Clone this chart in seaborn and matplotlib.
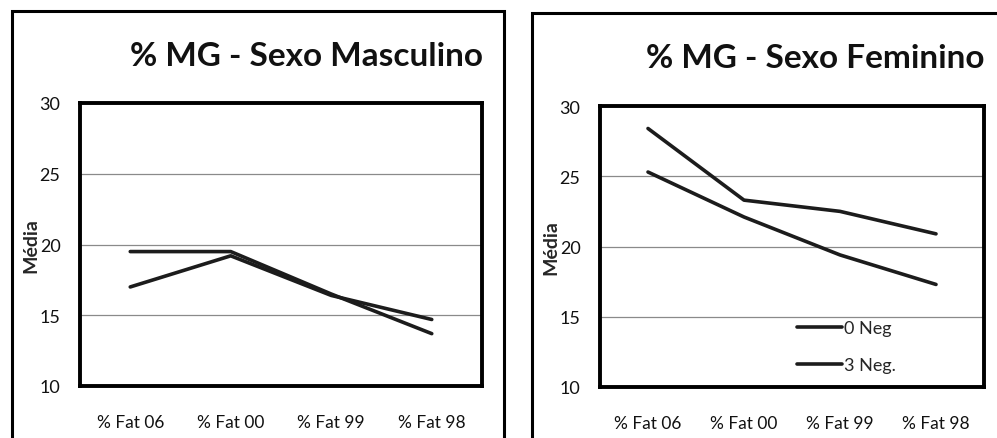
import pandas as pd
import seaborn as sns
import matplotlib.pyplot as plt
from matplotlib.patches import Rectangle

# data
periods = ["% Fat 06", "% Fat 00", "% Fat 99", "% Fat 98"]
series_names = ["0 Neg", "3 Neg."]
masc_0neg = [19.5, 19.5, 16.5, 13.7]
masc_3neg = [17.0, 19.2, 16.4, 14.7]
fem_0neg = [28.4, 23.3, 22.5, 20.9]
fem_3neg = [25.3, 22.1, 19.4, 17.3]
titles = ["% MG - Sexo Masculino", "% MG - Sexo Feminino"]


def long_df(a, b):
    return pd.DataFrame({
        "periodo": periods * 2,
        "media": a + b,
        "grupo": [series_names[0]] * 4 + [series_names[1]] * 4,
    })


sns.set_theme(style="white")
plt.rcParams["font.family"] = ["Lato", "DejaVu Sans"]

fig = plt.figure(figsize=(9.97, 4.39), dpi=100)
W, H = 997, 439

# outer boxes around each chart (figure coords)
for (x0, y0, x1, y1) in [(12, 12, 504, 445), (532, 14, 1003, 445)]:
    fig.patches.append(Rectangle((x0 / W, 1 - y1 / H), (x1 - x0) / W, (y1 - y0) / H,
                                 transform=fig.transFigure, fill=False,
                                 edgecolor="black", linewidth=2.2, clip_on=False))

axes_pos = [(80, 104, 482, 387), (600, 107, 984, 388)]
title_pos = [(306, 57), (815, 58)]
data = [long_df(masc_0neg, masc_3neg), long_df(fem_0neg, fem_3neg)]

for i in range(2):
    x0, y0, x1, y1 = axes_pos[i]
    ax = fig.add_axes([x0 / W, 1 - y1 / H, (x1 - x0) / W, (y1 - y0) / H])
    sns.lineplot(data=data[i], x="periodo", y="media", hue="grupo",
                 palette=["#1c1c1c", "#1c1c1c"], linewidth=2.6,
                 sort=False, ax=ax, legend=(i == 1))
    ax.set_xlim(-0.5, 3.5)
    ax.set_ylim(10, 30)
    ax.set_yticks([10, 15, 20, 25, 30])
    for v in [15, 20, 25]:
        ax.axhline(v, color="#8a8a8a", linewidth=0.9, zorder=0)
    for s in ax.spines.values():
        s.set_visible(True)
        s.set_color("black")
        s.set_linewidth(2.8)
    ax.tick_params(axis="y", length=0, pad=14, labelsize=13, labelcolor="#111111")
    ax.tick_params(axis="x", length=0, pad=20, labelsize=12.5, labelcolor="#111111")
    ax.set_xlabel("")
    ax.set_ylabel("Média", fontsize=14, fontweight="bold", labelpad=0)
    tx, ty = title_pos[i]
    fig.text(tx / W, 1 - ty / H, titles[i], ha="center", va="center",
             fontsize=24, fontweight="bold", color="#111111")
    if i == 1:
        ax.legend(loc="upper left", bbox_to_anchor=(0.49, 0.27), frameon=False,
                  fontsize=13, handlelength=2.5, handletextpad=0.1,
                  labelspacing=1.15, borderpad=0)

fig.savefig("out.png", dpi=100)
